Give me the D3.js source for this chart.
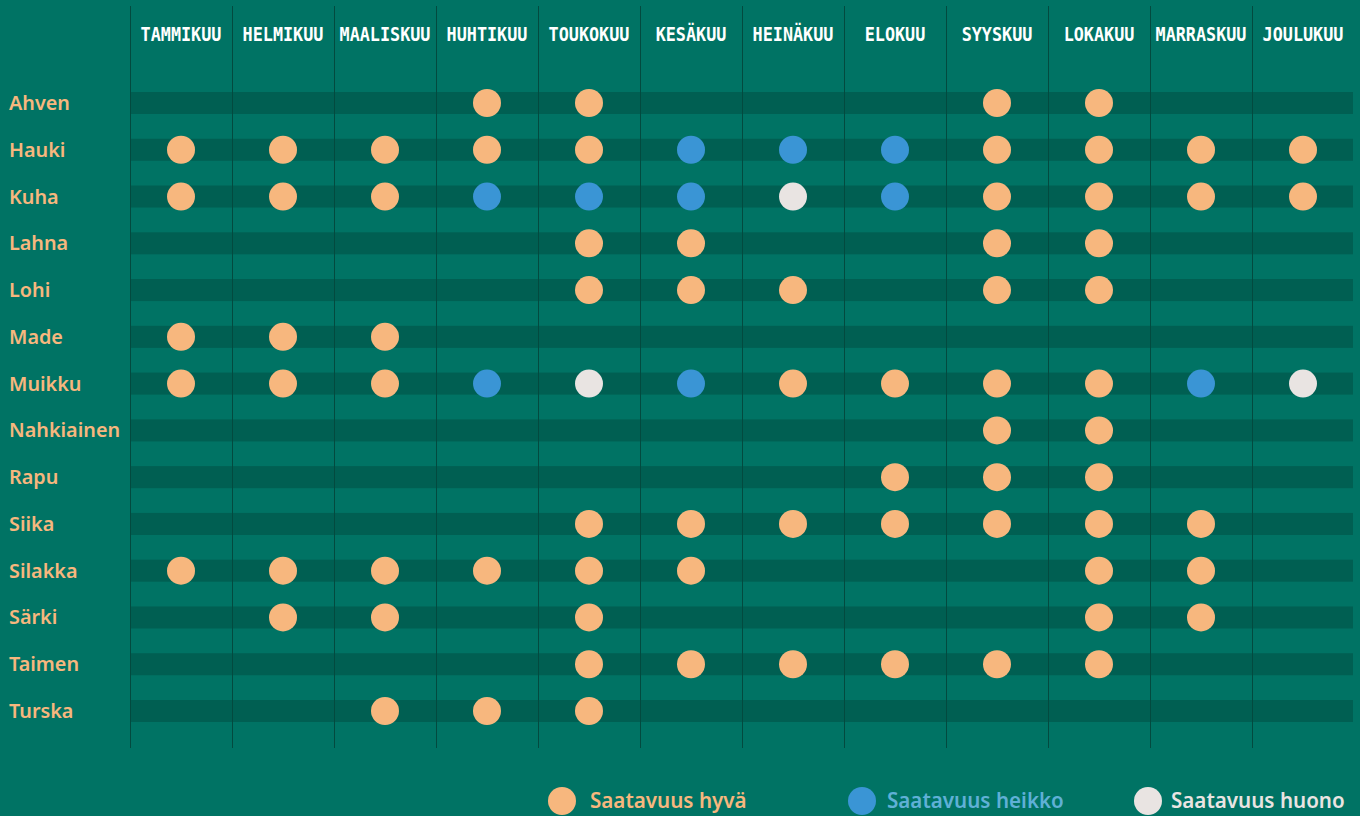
<!DOCTYPE html>
<html><head><meta charset="utf-8">
<script src="https://cdn.jsdelivr.net/npm/d3@7"></script>
<style>html,body{margin:0;padding:0;background:#007364;}svg{display:block;}</style>
</head><body>
<svg id="c" width="1360" height="816"></svg>
<script>
const months = ["TAMMIKUU","HELMIKUU","MAALISKUU","HUHTIKUU","TOUKOKUU","KESÄKUU","HEINÄKUU","ELOKUU","SYYSKUU","LOKAKUU","MARRASKUU","JOULUKUU"];
const fish = ["Ahven","Hauki","Kuha","Lahna","Lohi","Made","Muikku","Nahkiainen","Rapu","Siika","Silakka","Särki","Taimen","Turska"];
// 0 = ei, 1 = hyvä, 2 = heikko, 3 = huono
const availability = [
  [0,0,0,1,1,0,0,0,1,1,0,0],
  [1,1,1,1,1,2,2,2,1,1,1,1],
  [1,1,1,2,2,2,3,2,1,1,1,1],
  [0,0,0,0,1,1,0,0,1,1,0,0],
  [0,0,0,0,1,1,1,0,1,1,0,0],
  [1,1,1,0,0,0,0,0,0,0,0,0],
  [1,1,1,2,3,2,1,1,1,1,2,3],
  [0,0,0,0,0,0,0,0,1,1,0,0],
  [0,0,0,0,0,0,0,1,1,1,0,0],
  [0,0,0,0,1,1,1,1,1,1,1,0],
  [1,1,1,1,1,1,0,0,0,1,1,0],
  [0,1,1,0,1,0,0,0,0,1,1,0],
  [0,0,0,0,1,1,1,1,1,1,0,0],
  [0,0,1,1,1,0,0,0,0,0,0,0]
];
const legendLabels = ["Saatavuus hyvä","Saatavuus heikko","Saatavuus huono"];

const dotColors = {1:"#f7b77e",2:"#3a95d5",3:"#e9e4e2"};
const legendText = ["#f7b77e","#5fb0d6","#e9e4e2"];

const svg = d3.select("#c");
const x = d3.scaleBand().domain(months).range([130,1354]).padding(0);
const y = d3.scalePoint().domain(fish).range([103,711]);

// row bands
svg.append("g").selectAll("rect").data(fish).join("rect")
  .attr("x",130).attr("width",1223)
  .attr("y",d=>y(d)-11).attr("height",22)
  .attr("fill","#005f52");

// vertical lines
svg.append("g").selectAll("line").data(months).join("line")
  .attr("x1",d=>x(d)+0.5).attr("x2",d=>x(d)+0.5)
  .attr("y1",6).attr("y2",748)
  .attr("stroke","#034a3f").attr("stroke-width",1);

// header
svg.append("g").selectAll("text").data(months).join("text")
  .attr("x",d=>x(d)+x.bandwidth()/2).attr("y",41)
  .attr("text-anchor","middle")
  .attr("font-family","DejaVu Sans Mono").attr("font-weight","bold")
  .attr("font-size",19).attr("fill","#ffffff")
  .attr("textLength",d=>d.length*10.1).attr("lengthAdjust","spacingAndGlyphs")
  .text(d=>d);

// row labels
svg.append("g").selectAll("text").data(fish).join("text")
  .attr("x",9).attr("y",d=>y(d)+7)
  .attr("font-family","Noto Sans").attr("font-weight","600")
  .attr("font-size",19.8).attr("fill","#f7b77e")
  .text(d=>d);

// dots
const cells = [];
fish.forEach((f,i)=>availability[i].forEach((v,j)=>{ if(v) cells.push({f,m:months[j],v}); }));
svg.append("g").selectAll("circle").data(cells).join("circle")
  .attr("cx",d=>x(d.m)+x.bandwidth()/2).attr("cy",d=>y(d.f))
  .attr("r",14).attr("fill",d=>dotColors[d.v]);

// legend
const legX = [562,862,1148];
const legTX = [590,887,1171];
const lg = svg.append("g");
legendLabels.forEach((l,i)=>{
  lg.append("circle").attr("cx",legX[i]).attr("cy",801).attr("r",14).attr("fill",dotColors[i+1]);
  lg.append("text").attr("x",legTX[i]).attr("y",808)
    .attr("font-family","Noto Sans").attr("font-weight","600")
    .attr("font-size",20.6).attr("fill",legendText[i]).text(l);
});
</script>
</body></html>
